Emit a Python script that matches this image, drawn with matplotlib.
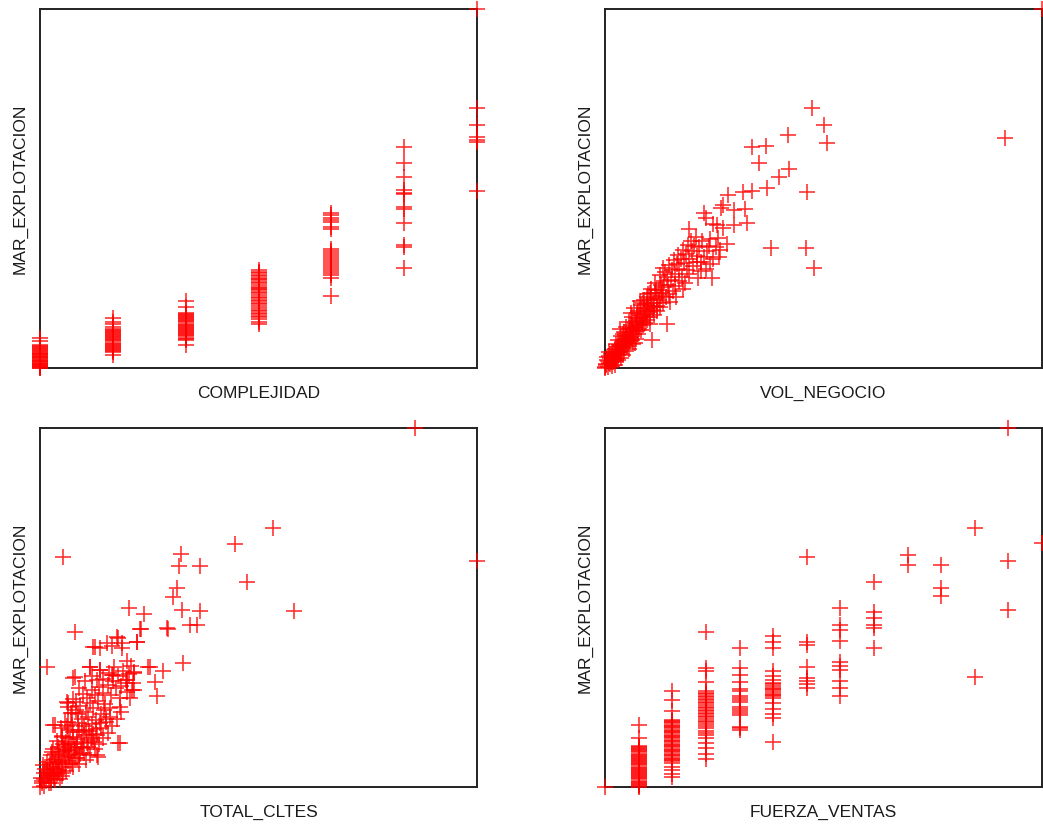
import matplotlib
matplotlib.use("Agg")
import matplotlib.pyplot as plt

plt.rcParams['font.family'] = ['Liberation Sans', 'DejaVu Sans']

# MAR_EXPLOTACION for each COMPLEJIDAD level
complejidad_levels = [1, 2, 3, 4, 5, 6, 7]
mar_by_complejidad = [
    [8.3, 7.6, 6.4, 6.2, 5.9, 5.6, 5.4, 5.1, 4.8, 4.6, 4.3, 4.0, 3.8, 3.5, 3.2, 3.0, 2.7, 2.4, 2.2, 1.9,
     1.6, 1.4, 1.1, 0.8, 0.6, 0.3, 0.0, 0.1, 0.5, 1.0, 2.0, 3.3],
    [13.8, 12.9, 12.3, 11.3, 11.0, 10.7, 10.4, 10.1, 9.8, 9.5, 9.2, 8.9, 8.6, 8.3, 8.0, 7.7, 7.4, 7.1,
     6.8, 6.5, 6.2, 5.9, 5.6, 5.3, 5.0, 4.7, 4.5, 3.6],
    [18.7, 16.9, 15.4, 15.1, 14.8, 14.5, 14.2, 13.9, 13.6, 13.3, 13.0, 12.7, 12.4, 12.1, 11.8, 11.5, 11.2,
     10.9, 10.6, 10.3, 10.0, 9.7, 9.4, 9.1, 8.8, 8.5, 8.2, 7.8, 6.4],
    [27.3, 26.8, 26.4, 26.0, 25.6, 25.2, 24.8, 24.5, 24.1, 23.6, 23.2, 22.7, 22.3, 22.0, 21.7, 21.2, 20.8,
     20.4, 19.9, 19.5, 19.0, 18.6, 18.2, 17.7, 17.3, 16.8, 16.3, 15.9, 15.4, 15.0, 14.5, 14.1, 13.6, 12.9, 12.3],
    [43.2, 42.6, 41.8, 41.2, 40.7, 39.3, 38.7, 33.1, 32.6, 32.0, 31.4, 30.9, 30.4, 29.8, 29.2, 28.6, 28.1,
     27.5, 27.0, 26.4, 25.9, 25.1, 20.1],
    [61.6, 57.0, 53.3, 49.6, 48.8, 48.5, 44.9, 44.2, 40.3, 34.3, 33.6, 27.9],
    [100.0, 72.4, 67.7, 64.3, 63.5, 62.9, 49.3],
]

# (VOL_NEGOCIO, MAR_EXPLOTACION)
vol_points = [
    (0.0, 0.0), (0.3, 0.8), (0.6, 0.4), (0.9, 1.5), (1.2, 1.0), (0.4, 2.1), (1.5, 2.4), (1.8, 1.7), (2.1, 3.0),
    (0.8, 3.3), (1.4, 3.8), (2.4, 2.6), (2.7, 4.1), (1.9, 4.6), (3.0, 3.5), (2.3, 5.2), (3.3, 5.0), (0.2, 1.2),
    (1.1, 2.8), (2.6, 1.9), (3.5, 4.4), (1.6, 0.5), (2.9, 2.2), (3.6, 2.9), (4.0, 3.6), (0.5, 3.0), (1.0, 4.4),
    (0.1, 0.2), (2.2, 0.9), (3.9, 5.6), (4.4, 4.8), (0.7, 1.9), (1.3, 1.6), (1.7, 3.3), (2.0, 2.0), (2.5, 3.6),
    (2.8, 5.8), (3.1, 4.5), (3.4, 6.0), (3.7, 3.9),
    (3.2, 6.3), (3.8, 7.0), (4.1, 5.8), (4.5, 8.1), (3.6, 8.9), (4.9, 7.4), (5.2, 9.3), (4.3, 10.1), (5.6, 10.8),
    (6.0, 8.7), (5.9, 11.9), (6.4, 10.2), (4.8, 11.5), (6.8, 12.6), (7.1, 11.3), (5.4, 12.9), (7.4, 13.8),
    (6.2, 14.2), (7.8, 12.1), (4.0, 9.6), (3.0, 7.8), (5.0, 6.2), (6.6, 9.4), (5.5, 5.2), (6.3, 6.8), (7.0, 8.0),
    (7.6, 9.6), (8.2, 10.6), (5.8, 7.6), (6.9, 7.1), (8.6, 11.9), (9.1, 12.6), (2.6, 6.8), (3.4, 10.8), (7.7, 10.9),
    (4.2, 7.5), (4.6, 6.5), (4.7, 9.0), (5.1, 8.3), (5.3, 6.9), (5.7, 9.9), (6.1, 11.0), (6.5, 11.5), (6.1, 7.8),
    (7.3, 10.4), (7.0, 13.0), (7.9, 13.6), (8.4, 12.8),
    (8.1, 14.9), (8.5, 13.2), (7.6, 16.0), (8.9, 16.4), (9.3, 15.1), (8.3, 17.5), (9.7, 17.8), (10.1, 16.6),
    (9.0, 19.0), (10.5, 19.3), (11.0, 18.0), (9.8, 20.6), (11.4, 20.9), (11.8, 19.6), (10.6, 22.0), (12.3, 21.8),
    (12.7, 23.1), (11.5, 23.6), (13.2, 22.5), (13.6, 24.2), (8.0, 18.6), (10.2, 14.3), (12.0, 17.3), (7.2, 15.2),
    (9.6, 13.4), (10.4, 12.4), (11.2, 14.9), (11.9, 15.8), (12.6, 16.9), (13.3, 18.2), (13.9, 19.7), (14.6, 20.6),
    (12.8, 20.2), (10.9, 16.2), (6.7, 16.8), (6.0, 15.4), (8.8, 14.2), (9.4, 16.0), (9.9, 15.5), (10.6, 17.4),
    (11.2, 17.0), (11.7, 21.8), (12.3, 19.0), (13.0, 20.9), (8.7, 18.0), (9.5, 19.8), (10.3, 21.0),
    (14.1, 25.3), (14.5, 23.0), (13.8, 26.8), (15.0, 24.6), (15.4, 27.4), (14.7, 28.6), (16.0, 26.1), (16.5, 28.9),
    (15.8, 30.0), (17.0, 27.6), (17.4, 30.5), (16.8, 31.4), (18.1, 29.2), (18.6, 31.8), (17.9, 33.0), (19.2, 30.4),
    (19.8, 32.6), (13.3, 27.9), (15.6, 21.5), (12.5, 26.0), (18.8, 27.3), (15.9, 22.8), (16.9, 24.2), (17.6, 25.4),
    (18.4, 23.6), (19.3, 26.1), (20.2, 28.3), (21.0, 29.4), (16.3, 19.8), (17.8, 21.9), (14.9, 18.4),
    (20.4, 34.1), (21.0, 31.3), (21.6, 33.7), (22.3, 35.4), (22.0, 29.6), (23.4, 32.5), (24.0, 35.9), (24.6, 30.3),
    (25.3, 33.8), (20.9, 36.6), (26.0, 31.0), (23.0, 27.7), (21.3, 25.0), (19.6, 35.5), (25.8, 36.1), (22.6, 31.0),
    (24.1, 28.9), (23.8, 33.9), (26.4, 33.0), (21.9, 27.1), (18.9, 34.4),
    (14.1, 12.4), (10.7, 7.8), (24.4, 25.0),
    (47.3, 72.3), (50.2, 67.7), (50.7, 62.8), (41.9, 64.9), (33.7, 61.6), (36.8, 61.8), (35.3, 57.2), (42.1, 55.4),
    (39.7, 53.3), (37.1, 50.1), (33.7, 49.4), (31.6, 48.9), (46.3, 49.1), (28.1, 48.2), (27.1, 45.4), (26.5, 44.5),
    (29.6, 44.0), (32.0, 44.2), (22.7, 43.1), (23.1, 41.7), (24.8, 40.1), (25.6, 39.8), (27.1, 38.9), (29.4, 39.8),
    (32.4, 40.3), (19.3, 38.6), (27.8, 34.5), (37.9, 33.3), (46.0, 33.3), (47.8, 27.9), (91.5, 64.0), (100.0, 100.0),
]

# (TOTAL_CLTES, MAR_EXPLOTACION)
cltes_points = [
    (0.0, 0.0), (0.5, 1.0), (1.0, 0.4), (1.4, 1.8), (0.3, 2.5), (2.0, 1.2), (1.8, 3.1), (0.8, 3.9), (2.5, 2.6),
    (2.9, 4.0), (1.2, 5.0), (3.3, 3.0), (2.2, 5.6), (3.7, 5.1), (0.6, 6.2), (3.1, 6.6), (4.0, 4.2), (1.6, 7.0),
    (2.7, 7.6), (4.3, 6.9), (3.5, 2.0), (5.0, 3.0), (6.0, 4.5), (7.5, 5.5), (9.0, 6.5), (10.5, 7.5), (2.5, 1.0),
    (4.5, 2.2), (6.8, 6.5), (8.5, 8.0), (4.0, 7.0), (3.0, 5.0), (0.9, 2.2), (1.5, 3.5), (2.1, 4.3), (2.6, 3.4),
    (3.2, 2.2), (3.8, 3.6), (4.4, 4.6), (4.9, 5.7), (5.3, 4.0), (5.7, 6.3), (0.4, 1.6), (1.7, 4.8), (2.3, 6.4),
    (4.6, 8.3), (3.5, 9.1), (5.0, 7.5), (5.4, 9.9), (4.2, 11.0), (6.0, 8.6), (5.8, 11.8), (6.5, 10.4), (3.9, 12.7),
    (7.0, 12.1), (6.3, 13.6), (5.1, 14.2), (7.6, 14.0), (8.0, 11.0), (6.8, 15.9), (8.4, 13.3), (4.8, 16.4),
    (7.3, 17.3), (8.8, 16.0), (5.6, 18.2), (9.2, 9.3), (7.9, 8.0), (3.0, 10.6), (2.4, 8.8), (11.5, 9.0),
    (12.5, 10.5), (13.5, 12.0), (14.5, 13.5), (10.0, 9.5), (11.0, 11.0), (12.0, 13.0), (13.0, 14.5), (8.5, 12.0),
    (10.0, 14.5), (6.0, 12.5), (5.0, 14.0), (6.5, 18.0), (5.5, 10.5), (7.0, 9.5), (9.5, 11.0),
    (6.3, 7.3), (6.7, 8.9), (7.2, 6.8), (7.8, 9.9), (8.1, 10.5), (8.9, 9.0), (9.4, 12.4), (9.9, 10.8),
    (10.8, 12.3), (11.6, 13.7), (12.2, 14.8), (10.6, 16.0), (11.9, 17.5), (9.6, 15.2), (8.6, 17.9), (7.5, 15.4),
    (6.6, 11.1), (5.2, 12.1), (4.4, 9.6), (3.6, 7.8), (2.8, 9.6), (6.2, 16.9), (12.8, 16.2), (13.7, 17.8),
    (14.7, 21.4),
    (9.5, 18.8), (8.7, 20.3), (10.0, 17.0), (10.4, 21.0), (9.1, 22.6), (11.0, 19.5), (11.5, 23.4), (10.7, 24.8),
    (12.1, 21.9), (12.6, 25.6), (11.8, 27.1), (13.2, 24.0), (13.6, 27.8), (14.3, 26.2), (12.9, 18.7), (14.8, 23.0),
    (15.5, 28.4), (9.8, 26.0), (8.3, 23.7), (7.2, 20.5), (6.4, 22.3), (13.9, 20.4), (15.0, 19.0), (16.2, 25.5),
    (11.3, 15.5), (12.4, 12.5), (15.5, 15.0), (16.5, 17.0), (17.5, 19.0), (18.5, 21.0), (14.0, 16.5), (15.0, 18.0),
    (16.0, 19.5), (7.0, 20.5), (7.5, 24.5), (9.0, 27.5), (8.2, 21.5),
    (16.6, 29.6), (17.3, 27.5), (17.9, 30.8), (18.5, 28.0), (19.0, 32.2), (19.6, 29.7), (20.3, 31.4), (20.8, 33.6),
    (18.2, 24.7), (21.5, 32.0), (15.8, 31.7), (17.0, 33.4), (14.5, 30.2), (13.0, 29.8), (21.2, 29.0), (19.8, 26.4),
    (16.0, 22.0), (20.0, 35.0), (10.3, 29.4), (11.9, 31.0),
    (7.6, 30.3), (11.4, 33.5), (13.7, 32.6), (16.4, 31.2), (3.4, 17.3), (6.1, 23.8), (17.9, 12.2), (19.8, 29.8),
    (21.4, 27.0), (20.6, 24.7), (18.3, 22.4), (13.3, 8.4),
    (85.8, 100.0), (100.0, 62.8), (53.4, 72.1), (44.7, 67.7), (5.3, 64.0), (32.2, 64.8), (31.7, 61.6), (36.6, 61.6),
    (47.4, 57.2), (31.3, 55.5), (30.5, 53.0), (32.4, 49.3), (36.5, 49.0), (58.0, 49.1), (20.4, 49.9), (23.8, 48.2),
    (34.3, 45.1), (36.0, 45.1), (8.0, 43.3), (23.0, 43.9), (29.2, 44.0), (17.5, 41.9), (18.7, 40.0), (22.1, 40.3),
    (12.6, 38.9), (15.3, 40.0), (1.5, 33.5), (32.8, 34.5), (25.2, 33.5), (28.2, 32.4), (26.3, 29.3), (26.7, 25.4),
    (8.0, 30.7), (11.4, 33.5), (13.7, 32.6), (18.3, 12.2), (13.0, 8.9), (3.0, 17.3), (6.5, 23.3), (21.4, 31.7),
    (16.8, 31.2), (19.8, 28.9), (21.0, 27.0), (12.2, 39.1), (13.7, 38.6), (16.4, 39.3), (17.9, 41.4), (18.7, 38.6),
    (22.1, 40.5), (22.9, 43.9), (29.0, 44.2), (24.8, 33.5),
]

# MAR_EXPLOTACION for each FUERZA_VENTAS level
fuerza_levels = list(range(14))
mar_by_fuerza = [
    [0.0],
    [17.3, 13.6, 11.4, 11.1, 10.8, 10.5, 10.2, 9.9, 9.6, 9.3, 9.0, 8.7, 8.4, 8.1, 7.8, 7.5, 7.2, 6.9, 6.6, 6.3,
     6.0, 5.7, 5.4, 5.1, 4.8, 4.5, 4.2, 3.9, 3.6, 3.3, 3.0, 2.7, 2.4, 2.1, 1.8, 1.5, 1.2, 0.9, 0.6, 0.3, 0.0],
    [26.8, 24.2, 21.2, 18.7, 18.4, 18.0, 17.7, 17.3, 17.0, 16.6, 16.3, 15.9, 15.6, 15.2, 14.9, 14.5, 14.2, 13.8,
     13.5, 13.1, 12.8, 12.4, 12.1, 11.7, 11.4, 11.0, 10.7, 10.3, 10.0, 9.6, 9.3, 8.9, 8.6, 8.2, 7.9, 7.5, 7.2,
     6.7, 5.6, 4.7, 3.6, 2.8],
    [43.1, 33.2, 32.4, 29.1, 26.7, 26.3, 25.9, 25.4, 25.0, 24.6, 24.1, 23.7, 23.3, 22.8, 22.4, 22.0, 21.5, 21.1,
     20.7, 20.2, 19.8, 19.4, 18.9, 18.5, 18.1, 17.6, 17.0, 16.3, 15.7, 15.0, 14.4, 13.6, 12.3, 10.8, 9.1, 7.8],
    [38.8, 33.1, 31.2, 29.3, 27.2, 26.7, 25.2, 24.8, 24.2, 23.7, 22.4, 21.8, 21.2, 20.5, 20.1, 16.8, 16.3, 15.9],
    [42.1, 40.5, 38.8, 32.4, 31.0, 29.8, 29.0, 28.6, 28.1, 27.7, 27.3, 26.9, 26.5, 26.0, 25.6, 25.2, 24.8, 23.3,
     21.6, 20.3, 19.1, 12.5],
    [64.0, 40.5, 39.6, 33.3, 30.4, 29.6, 28.7, 27.7],
    [49.8, 45.1, 43.7, 40.7, 34.9, 33.7, 32.6, 29.6, 27.5, 25.3],
    [57.2, 48.8, 47.0, 45.1, 44.2, 38.8],
    [64.6, 61.8],
    [61.8, 55.3, 53.2],
    [72.2, 30.7],
    [100.0, 62.8, 49.3],
    [67.9],
]


def expand(levels, groups):
    xs, ys = [], []
    for lev, vals in zip(levels, groups):
        xs += [lev] * len(vals)
        ys += vals
    return xs, ys


cx, cy = expand(complejidad_levels, mar_by_complejidad)
fx, fy = expand(fuerza_levels, mar_by_fuerza)
vx = [p[0] for p in vol_points]
vy = [p[1] for p in vol_points]
tx = [p[0] for p in cltes_points]
ty = [p[1] for p in cltes_points]

panels = [
    (cx, cy, 'COMPLEJIDAD'),
    (vx, vy, 'VOL_NEGOCIO'),
    (tx, ty, 'TOTAL_CLTES'),
    (fx, fy, 'FUERZA_VENTAS'),
]
positions = [
    [0.0384, 0.5539, 0.4190, 0.4352],
    [0.5801, 0.5539, 0.4190, 0.4352],
    [0.0384, 0.0461, 0.4190, 0.4352],
    [0.5801, 0.0461, 0.4190, 0.4352],
]

fig = plt.figure(figsize=(10.43, 8.25), dpi=100)
for (x, y, name), pos in zip(panels, positions):
    ax = fig.add_axes(pos)
    ax.plot(x, y, linestyle='none', marker='+', markersize=11.5, markeredgewidth=1.2,
            color='red', alpha=0.8, clip_on=False, zorder=3)
    ax.set_xlim(min(x), max(x))
    ax.set_ylim(min(y), max(y))
    ax.set_xticks([])
    ax.set_yticks([])
    for sp in ax.spines.values():
        sp.set_linewidth(1.4)
        sp.set_color('#222222')
    ax.set_xlabel(name, fontsize=12.5, color='#1a1a1a', labelpad=13)
    ax.set_ylabel('MAR_EXPLOTACION', fontsize=12.5, color='#1a1a1a', labelpad=9)

fig.savefig('out.png', dpi=100)
